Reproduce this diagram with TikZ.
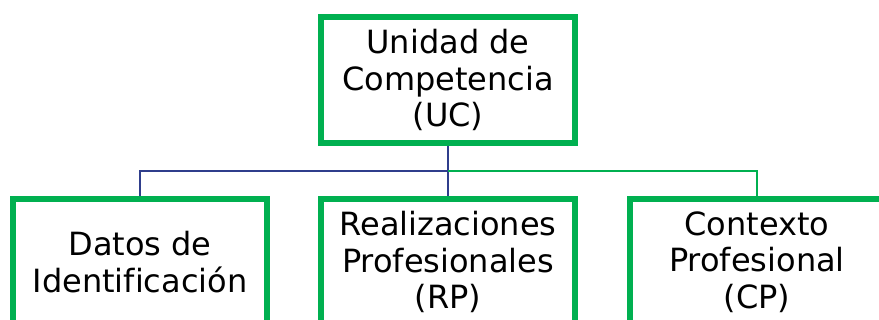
\documentclass[tikz,border=0pt]{standalone}
\usepackage{fontspec}
\setmainfont[Ligatures=NoCommon]{DejaVu Sans}
\definecolor{boxgreen}{HTML}{00B050}
\definecolor{navyline}{HTML}{2F3E8C}
\pgfdeclarelayer{bg}
\pgfsetlayers{bg,main}
\tikzset{
  ubox/.style={draw=boxgreen, line width=6pt, fill=white, minimum width=254pt, minimum height=126pt,
    align=center, inner sep=0pt, font=\fontsize{32}{36.5}\selectfont},
  navyconn/.style={draw=navyline, line width=2.8pt},
  greenconn/.style={draw=boxgreen, line width=2.2pt}
}
\begin{document}
\begin{tikzpicture}[x=1pt,y=-1pt]
\useasboundingbox (0,0) rectangle (879,320);
\clip (0,0) rectangle (879,320);
\node[ubox] (uc) at (448,80) {Unidad de\\Competencia\\(UC)};
\node[ubox] (di) at (140,262) {Datos de\\Identificación};
\node[ubox] (rp) at (448,262) {Realizaciones\\Profesionales\\(RP)};
\node[ubox] (cp) at (757,262) {Contexto\\Profesional\\(CP)};
\coordinate (j) at (448,171);
\begin{pgfonlayer}{bg}
\draw[navyconn] (uc.south) -- (rp.north);
\draw[navyconn] (di.north) |- (j);
\draw[greenconn] (j) -| (cp.north);
\end{pgfonlayer}
\end{tikzpicture}
\end{document}
